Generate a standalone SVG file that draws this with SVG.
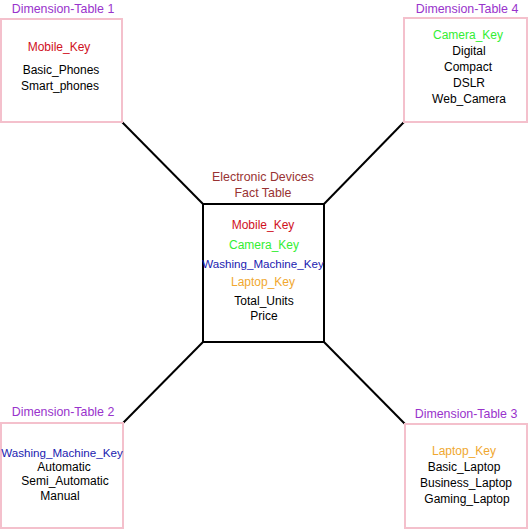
<svg xmlns="http://www.w3.org/2000/svg" width="529" height="530" viewBox="0 0 529 530">
<style>
text{font-family:"Liberation Sans",Arial,sans-serif;font-size:12px;text-anchor:middle;fill:#000}
.title{fill:#9933cc;font-size:12.4px}
.dim{fill:#fff;stroke:#f4c0cc;stroke-width:2}
.fact{fill:#fff;stroke:#000;stroke-width:2}
.conn line{stroke:#000;stroke-width:2}
.red{fill:#d0101e}
.green{fill:#33ee33}
.blue{fill:#1a1ab0}
.orange{fill:#f0a830}
.brown{fill:#993333;font-size:12.4px}
.wm{font-size:11.6px}
</style>
<rect width="529" height="530" fill="#fff"/>
<g id="connectors" class="conn">
<line x1="122" y1="122" x2="203" y2="204"/>
<line x1="404" y1="122" x2="324" y2="204"/>
<line x1="123" y1="423" x2="203" y2="342"/>
<line x1="405" y1="424" x2="324" y2="342"/>
</g>
<g id="dim1">
<text class="title" x="63" y="13">Dimension-Table 1</text>
<rect class="dim" x="1" y="19" width="121" height="103"/>
<text class="red" x="59" y="51">Mobile_Key</text>
<text x="61" y="74">Basic_Phones</text>
<text x="60" y="90">Smart_phones</text>
</g>
<g id="dim4">
<text class="title" x="467" y="13">Dimension-Table 4</text>
<rect class="dim" x="404" y="18" width="123" height="104"/>
<text class="green" x="468" y="39">Camera_Key</text>
<text x="469" y="55">Digital</text>
<text x="468" y="71">Compact</text>
<text x="469" y="87">DSLR</text>
<text x="469" y="103">Web_Camera</text>
</g>
<g id="fact">
<text class="brown" x="263" y="181">Electronic Devices</text>
<text class="brown" x="263" y="197">Fact Table</text>
<rect class="fact" x="203" y="204" width="121" height="138"/>
<text class="red" x="263" y="229">Mobile_Key</text>
<text class="green" x="264" y="249">Camera_Key</text>
<text class="blue wm" x="263" y="268">Washing_Machine_Key</text>
<text class="orange" x="263" y="286">Laptop_Key</text>
<text x="264" y="305">Total_Units</text>
<text x="264" y="320">Price</text>
</g>
<g id="dim2">
<text class="title" x="63" y="416">Dimension-Table 2</text>
<rect class="dim" x="1" y="423" width="122" height="105"/>
<text class="blue wm" x="62" y="457">Washing_Machine_Key</text>
<text x="64" y="471">Automatic</text>
<text x="65" y="485">Semi_Automatic</text>
<text x="60" y="500">Manual</text>
</g>
<g id="dim3">
<text class="title" x="466" y="418">Dimension-Table 3</text>
<rect class="dim" x="405" y="424" width="122" height="104"/>
<text class="orange" x="464" y="455">Laptop_Key</text>
<text x="464" y="471">Basic_Laptop</text>
<text x="466" y="487">Business_Laptop</text>
<text x="467" y="503">Gaming_Laptop</text>
</g>
</svg>
